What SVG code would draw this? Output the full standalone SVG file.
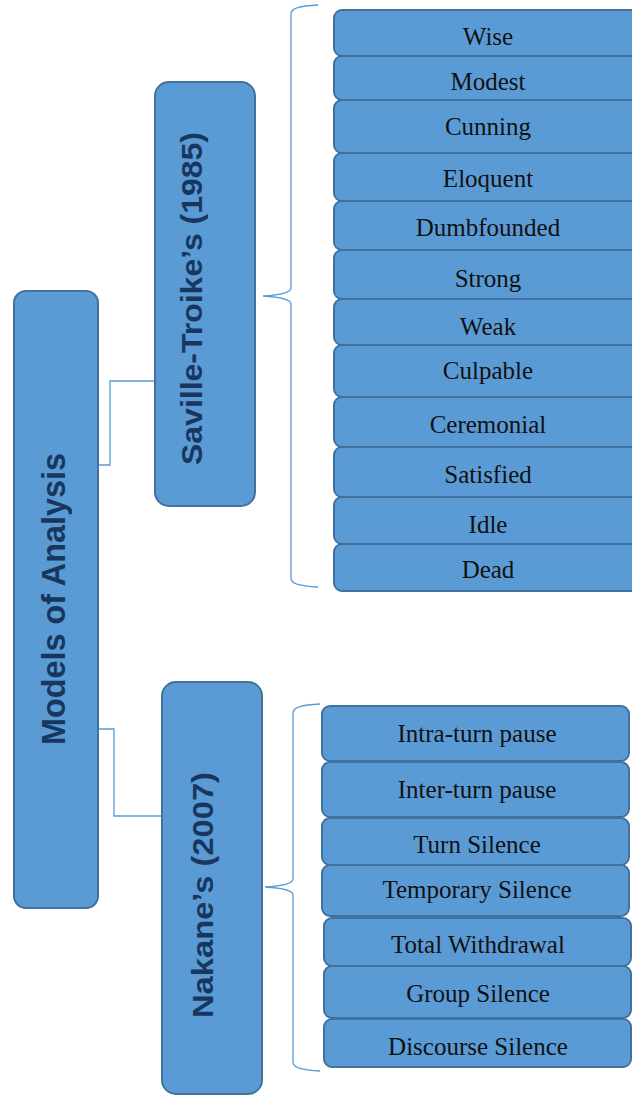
<svg xmlns="http://www.w3.org/2000/svg" width="632" height="1095" viewBox="0 0 632 1095">
<style>
.main{fill:#5B9BD5;stroke:#41719C;stroke-width:2}
.item{fill:#5B9BD5;stroke:#41719C;stroke-width:2}
.mt{font-family:"Liberation Sans",Arial,sans-serif;font-weight:bold;fill:#17375E;text-anchor:middle}
.it{font-family:"Liberation Serif","Times New Roman",serif;font-size:25px;fill:#111111;text-anchor:middle}
.con{fill:none;stroke:#5B9BD5;stroke-width:1.3}
</style>
<rect width="632" height="1095" fill="#ffffff"/>
<g id="connectors">
<polyline class="con" points="98,465 110,465 110,381 155,381"/>
<polyline class="con" points="98,729 114,729 114,816 162,816"/>
<path class="con" d="M318,5 C300,6 291,8 291,14 L291,288 C291,293 280,295 263,296 C280,297 291,299 291,304 L291,578 C291,584 300,586 318,587"/>
<path class="con" d="M320,704 C302,705 293,707 293,713 L293,879 C293,884 282,886 265,887 C282,888 293,890 293,895 L293,1062 C293,1068 302,1070 320,1071"/>
</g>
<g id="models">
<rect class="main" x="14" y="291" width="84" height="617" rx="12"/>
<text class="mt" font-size="34" textLength="292" lengthAdjust="spacingAndGlyphs" transform="translate(65,599) rotate(-90)">Models of Analysis</text>
</g>
<g id="saville">
<rect class="main" x="155" y="82" width="100" height="424" rx="14"/>
<text class="mt" font-size="30" textLength="333" lengthAdjust="spacingAndGlyphs" transform="translate(202,298.5) rotate(-90)">Saville-Troike’s (1985)</text>
</g>
<g id="nakane">
<rect class="main" x="162" y="682" width="100" height="412" rx="14"/>
<text class="mt" font-size="30" textLength="246" lengthAdjust="spacingAndGlyphs" transform="translate(213,895) rotate(-90)">Nakane’s (2007)</text>
</g>
<g id="wise"><rect class="item" x="334" y="10" width="330" height="46" rx="8"/><text class="it" x="488" y="45">Wise</text></g>
<g id="modest"><rect class="item" x="334" y="56" width="330" height="44" rx="8"/><text class="it" x="488" y="90">Modest</text></g>
<g id="cunning"><rect class="item" x="334" y="100" width="330" height="53" rx="8"/><text class="it" x="488" y="135">Cunning</text></g>
<g id="eloquent"><rect class="item" x="334" y="153" width="330" height="48" rx="8"/><text class="it" x="488" y="187">Eloquent</text></g>
<g id="dumbfounded"><rect class="item" x="334" y="201" width="330" height="49" rx="8"/><text class="it" x="488" y="236">Dumbfounded</text></g>
<g id="strong"><rect class="item" x="334" y="250" width="330" height="49" rx="8"/><text class="it" x="488" y="287">Strong</text></g>
<g id="weak"><rect class="item" x="334" y="299" width="330" height="46" rx="8"/><text class="it" x="488" y="335">Weak</text></g>
<g id="culpable"><rect class="item" x="334" y="345" width="330" height="52" rx="8"/><text class="it" x="488" y="379">Culpable</text></g>
<g id="ceremonial"><rect class="item" x="334" y="397" width="330" height="50" rx="8"/><text class="it" x="488" y="433">Ceremonial</text></g>
<g id="satisfied"><rect class="item" x="334" y="447" width="330" height="50" rx="8"/><text class="it" x="488" y="483">Satisfied</text></g>
<g id="idle"><rect class="item" x="334" y="497" width="330" height="47" rx="8"/><text class="it" x="488" y="533">Idle</text></g>
<g id="dead"><rect class="item" x="334" y="544" width="330" height="47" rx="8"/><text class="it" x="488" y="578">Dead</text></g>
<g id="intra"><rect class="item" x="322" y="706" width="307" height="55" rx="8"/><text class="it" x="477" y="742">Intra-turn pause</text></g>
<g id="inter"><rect class="item" x="322" y="762" width="307" height="55" rx="8"/><text class="it" x="477" y="798">Inter-turn pause</text></g>
<g id="turn"><rect class="item" x="322" y="818" width="307" height="47" rx="8"/><text class="it" x="477" y="853">Turn Silence</text></g>
<g id="temporary"><rect class="item" x="322" y="865" width="307" height="51" rx="8"/><text class="it" x="477" y="898">Temporary Silence</text></g>
<g id="total"><rect class="item" x="324" y="918" width="307" height="48" rx="8"/><text class="it" x="478" y="953">Total Withdrawal</text></g>
<g id="group"><rect class="item" x="324" y="966" width="307" height="52" rx="8"/><text class="it" x="478" y="1002">Group Silence</text></g>
<g id="discourse"><rect class="item" x="324" y="1019" width="307" height="48" rx="8"/><text class="it" x="478" y="1055">Discourse Silence</text></g>
</svg>
